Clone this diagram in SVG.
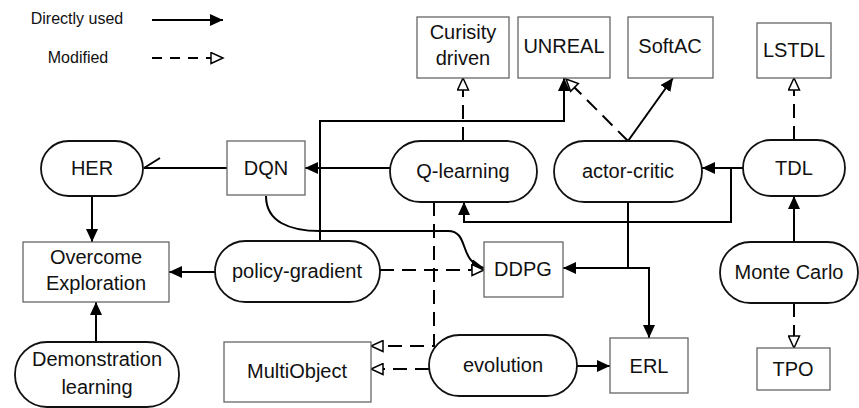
<svg xmlns="http://www.w3.org/2000/svg" width="859" height="408" viewBox="0 0 859 408">
<style>
text{font-family:"Liberation Sans",Arial,sans-serif;font-size:20px;fill:#111;text-anchor:middle}
.leg{font-size:16px}
.box{fill:#fff;stroke:#666;stroke-width:1.3}
.pill{fill:#fff;stroke:#111;stroke-width:1.8}
.c{fill:none;stroke:#000;stroke-width:2}
.d{fill:none;stroke:#000;stroke-width:2;stroke-dasharray:14,8}
.f{marker-end:url(#fa)}
.o{marker-end:url(#oa)}
</style>
<defs>
<marker id="fa" markerUnits="userSpaceOnUse" markerWidth="14" markerHeight="12" refX="13" refY="6" orient="auto"><path d="M0,0 L13,6 L0,12 z" fill="#000"/></marker>
<marker id="oa" markerUnits="userSpaceOnUse" markerWidth="15" markerHeight="13" refX="13" refY="6.5" orient="auto"><path d="M1,1 L13,6.5 L1,12 z" fill="#fff" stroke="#000" stroke-width="1.5"/></marker>
</defs>
<rect width="859" height="408" fill="#fff"/>
<g id="legend">
<text class="leg" x="77" y="24">Directly used</text>
<text class="leg" x="78" y="63">Modified</text>
<line class="c f" x1="152" y1="20" x2="223" y2="20"/>
<line class="d o" x1="152" y1="58" x2="223" y2="58" style="stroke-dasharray:10,8"/>
</g>
<g id="connectors">
<path class="c" d="M227,168 L144,168 M144,168 L160,158"/>
<line class="c f" x1="92" y1="196" x2="92" y2="242"/>
<line class="c f" x1="215" y1="272" x2="169" y2="272"/>
<line class="c f" x1="96" y1="342" x2="96" y2="302"/>
<line class="c f" x1="390" y1="168" x2="305" y2="168"/>
<path class="c f" d="M320,241 L320,121 L564,121 L564,78"/>
<line class="d o" x1="463" y1="141" x2="463" y2="78"/>
<line class="d o" x1="628" y1="141" x2="566" y2="79"/>
<line class="c f" x1="628" y1="141" x2="673" y2="78"/>
<line class="d o" x1="794" y1="140" x2="794" y2="78"/>
<line class="c f" x1="743" y1="168" x2="702" y2="168"/>
<path class="c f" d="M731,168 L731,222 L464,222 L464,202"/>
<path class="c" d="M628,202 L628,268"/>
<path class="c f" d="M628,268 L563,268"/>
<path class="c f" d="M628,268 L649,268 L649,338"/>
<path class="c f" d="M266,196 C266,222 290,231 320,231 L448,231 C470,231 458,262 484,268"/>
<line class="d o" x1="380" y1="270" x2="484" y2="270"/>
<path class="d o" d="M434,202 L434,346 L371,346"/>
<line class="d o" x1="429" y1="369" x2="371" y2="369"/>
<line class="c f" x1="577" y1="366" x2="610" y2="366"/>
<line class="c f" x1="794" y1="242" x2="794" y2="196"/>
<line class="d o" x1="794" y1="303" x2="794" y2="348"/>
</g>
<g id="curiosity"><rect class="box" x="417" y="17" width="92" height="61"/><text x="463" y="39">Curisity</text><text x="463" y="65">driven</text></g>
<g id="unreal"><rect class="box" x="518" y="17" width="92" height="61"/><text x="564" y="53">UNREAL</text></g>
<g id="softac"><rect class="box" x="628" y="17" width="85" height="61"/><text x="670" y="53">SoftAC</text></g>
<g id="lstdl"><rect class="box" x="757" y="23" width="74" height="55"/><text x="794" y="57">LSTDL</text></g>
<g id="her"><rect class="pill" x="41" y="141" width="102" height="55" rx="27.5"/><text x="92" y="175">HER</text></g>
<g id="dqn"><rect class="box" x="227" y="141" width="78" height="54"/><text x="266" y="175">DQN</text></g>
<g id="qlearning"><rect class="pill" x="390" y="141" width="147" height="61" rx="30.5"/><text x="463" y="178">Q-learning</text></g>
<g id="actorcritic"><rect class="pill" x="554" y="141" width="148" height="61" rx="30.5"/><text x="628" y="178">actor-critic</text></g>
<g id="tdl"><rect class="pill" x="743" y="140" width="102" height="56" rx="28"/><text x="794" y="175">TDL</text></g>
<g id="overcome"><rect class="box" x="23" y="242" width="146" height="60"/><text x="96" y="264">Overcome</text><text x="96" y="290">Exploration</text></g>
<g id="policygradient"><rect class="pill" x="215" y="241" width="165" height="61" rx="30.5"/><text x="297" y="278">policy-gradient</text></g>
<g id="ddpg"><rect class="box" x="484" y="242" width="79" height="55"/><text x="523" y="276">DDPG</text></g>
<g id="montecarlo"><rect class="pill" x="720" y="242" width="138" height="61" rx="30.5"/><text x="789" y="279">Monte Carlo</text></g>
<g id="demonstration"><rect class="pill" x="15" y="342" width="164" height="65" rx="32"/><text x="97" y="366">Demonstration</text><text x="97" y="394">learning</text></g>
<g id="multiobject"><rect class="box" x="224" y="342" width="147" height="60"/><text x="297" y="378">MultiObject</text></g>
<g id="evolution"><rect class="pill" x="429" y="335" width="148" height="61" rx="30.5"/><text x="503" y="372">evolution</text></g>
<g id="erl"><rect class="box" x="610" y="338" width="78" height="55"/><text x="649" y="373">ERL</text></g>
<g id="tpo"><rect class="box" x="757" y="348" width="73" height="42"/><text x="793" y="376">TPO</text></g>
</svg>
